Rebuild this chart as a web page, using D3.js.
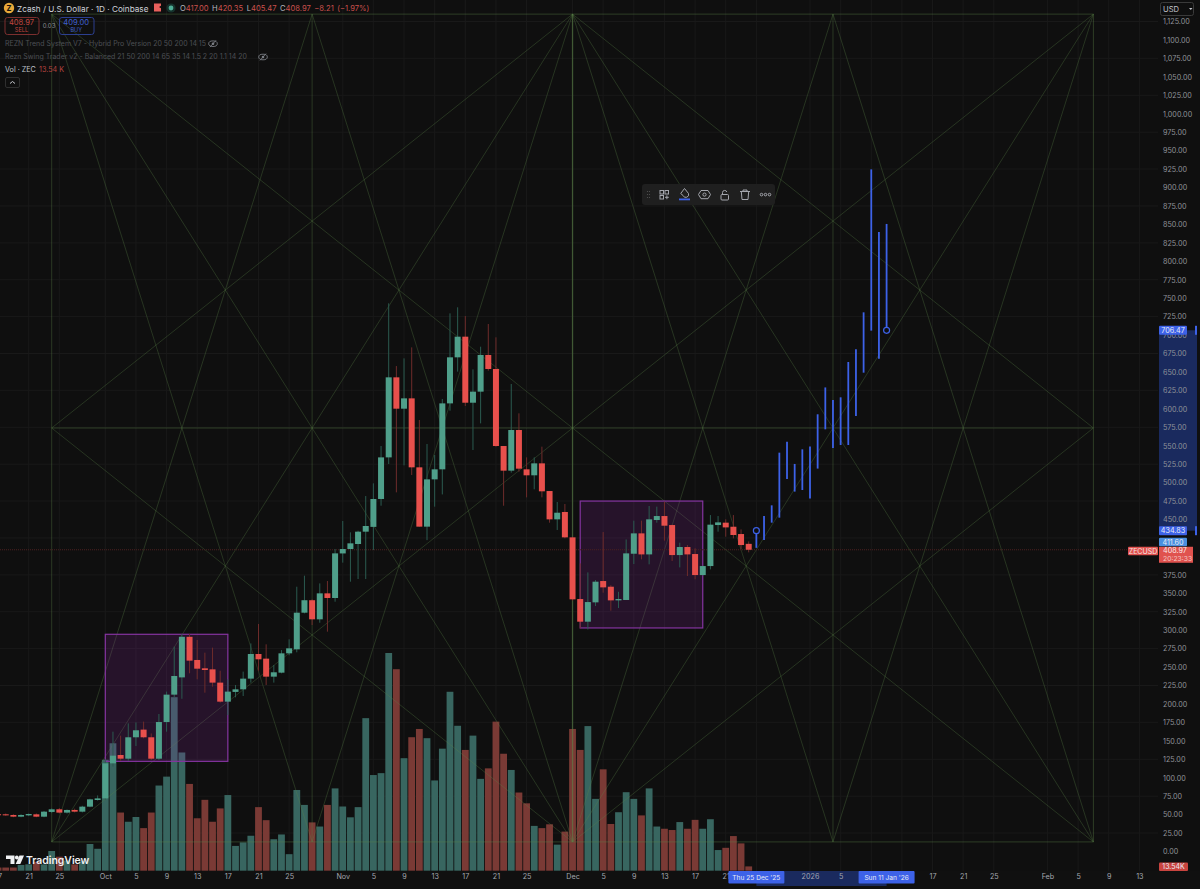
<!DOCTYPE html>
<html>
<head>
<meta charset="utf-8">
<title>ZEC 1D</title>
<script src="https://cdn.jsdelivr.net/npm/d3@7/dist/d3.min.js"></script>
<style>
  html, body { margin: 0; padding: 0; background: #0f0f0f; overflow: hidden; }
  svg { display: block; font-family: Inter, "Noto Sans", sans-serif; }
  .axis text { font-family: Inter, "Noto Sans", sans-serif; }
</style>
</head>
<body>
<svg id="chart" width="1200" height="889"></svg>
<script>
// first candle is 17 Sep, day numbers count from 1 Oct = 0
var firstDay = -14;
var opens = [50.5,50.4,49.5,47.2,49,50.4,47.2,53.6,57.2,52.7,56.3,54,60.8,69.8,
  72,119.5,130.8,125.8,154.8,165.2,154.8,125.8,175.5,212.6,236,291,259.6,248.3,246.9,228.9,
  203.1,216.3,219.8,234.3,267.7,261.4,237,242.4,268.6,274,323.7,340.6,314.7,349.9,343.6,
  404,410,416.8,433.5,440,477.8,534.2,642.7,600.2,614.2,520.7,440.3,504.4,518,607.4,669.8,
  697.8,608.3,623.3,673,654,549.6,516.2,571.3,518,509.9,526.1,488.6,450.2,460.2,425.8,
  342.2,311.5,337.7,366.6,358.9,340.4,340.9,403.6,431.2,402.7,449.3,454.7,442.5,401.8,412.7,
  403.2,374.7,386.9,442.5,445.7,440.2,430.3,417];
var highs = [51.5,51.5,50.5,50.5,51.5,51.5,55,58.5,59,57,58,62,71.5,76,
  125,162.4,157,173.7,175,176,160,186.4,216.7,277.7,294.8,294.8,286.7,269.5,276.3,245,
  233.4,225.7,243.8,282,308.4,280.8,252.8,273,287.6,358.9,373.8,341.8,363.4,366.6,410,
  448,432.6,434.8,481.8,499,549.6,743,658,668.4,683.3,584.9,552.3,537.4,613.3,729.4,737.6,
  725.8,653.5,684.2,715,696.9,549.6,633.6,593.9,534.2,534.2,548.7,488.6,473.7,471,426.5,
  390.5,378.3,368,433,361,352,423,448.4,448.4,468.3,467.4,474.1,443,418.6,415.4,
  410.9,387.5,456,454.7,450.2,456,436.6,420.35];
var lows = [49,48.5,46.5,46.5,48,46.5,46.5,52,51.5,51.5,53,53,60,69,
  70,115,123,123,143,153.4,124,124,162.4,209,207,241.5,233.4,215.3,223.4,201.8,
  185,209,210.8,228.9,245,225.7,228.9,241.5,266,270,322.8,307,310.1,298,338.6,
  391.5,365.7,369.3,369.3,408.6,468.7,525.2,486.8,523.4,510.3,440.3,422,467.4,484,597.5,650.4,
  603.8,544.2,580.3,651.7,548.7,468.7,513.5,514.8,480,490.9,480,445.7,435.8,424.5,340,
  302.4,301,332.7,350.8,326.4,330,340.9,389.6,396,389.2,445.7,421.3,393.7,385.1,373.4,
  368.9,374,382.4,433.5,426.7,424.4,410,405.47];
var closes = [49.5,49,47.2,49.5,50.8,47.2,54,57.2,52.7,56.3,54,60.8,70.7,72,
  119.5,129.9,125.8,154.8,164.3,154.8,125.8,175.5,212.6,237.9,291,258.7,247.8,246,228.9,203.1,
  216.7,219.8,234.3,267.7,260.5,237,242.9,268.6,275.4,323.7,340.6,314.7,349.9,343.6,404.1,
  410,417.7,433.5,441.2,477.8,534.2,642.7,600.2,614.2,520.7,440.3,504.4,518,607.4,669.8,697.8,
  608.3,623.3,673,654,549.6,516.2,571.3,518.9,509.9,526.1,488.2,450.2,459.2,425.8,341.8,
  311.5,338.1,365.7,358,340.4,342.2,404.1,431.2,402.7,450.2,454.7,441.6,401.8,412.7,402.7,
  374.7,386.9,443,446.1,439.3,429,415.4,408.97];
// volume in thousands, same days as the candles
var volumes = [10,10,10,18,20,28,20,62,44,32,20,30,84,69,
  349,401,183,154,169,134,183,268,296,546,372,273,165,223,154,196,
  238,78,89,110,200,159,99,114,52,254,207,152,139,207,259,
  202,168,200,480,301,307,685,634,354,420,446,417,284,384,563,456,
  380,425,289,322,469,368,317,246,212,141,134,146,82,123,446,
  380,455,226,319,147,184,247,226,174,259,139,132,128,153,132,
  160,132,162,65,72,109,86,13.54];

// projection bars after the last candle, 25 Dec to 11 Jan
var projFirstDay = 85;
var projHighs = [434.83,454.8,469.2,540.6,555.5,525.3,545.1,548.8,592.6,629,612,615.6,663.5,680.7,730.8,924.6,839.7,850.6];
var projLows = [411.6,422.2,445.7,452.5,505,487.8,490,478.3,519,572.2,547,551,551,590.3,649,706,668,706.47];

// gann box corners, days and prices
var gannDays = [-7,27,61,95,129];
var gannPrices = [13,574,1135];
// highlighted ranges
var boxDays = [[0,16],[62,78]];
var boxPrices = [[122.2,294.4],[303,475]];

var priceTicks = d3.range(0,1126,25);
var hiddenPrices = [400,425];   // sit under the price tags
var tickDays = [-14,-10,-6,0,4,8,12,16,20,24,31,35,39,43,47,51,55,61,65,69,73,77,81,85,92,96,100,104,108,112,116,123,127,131,135];
// empty ones sit under the date tags
var tickLabels = ["17","21","25","Oct","5","9","13","17","21","25","Nov","5","9","13","17","21","25","Dec","5","9","13","17","21","","2026","5","","","17","21","25","Feb","5","9","13"];

var lastPrice = 408.97, projStart = 434.83, projEnd = 706.47, projMid = 411.60;

var x = d3.scaleLinear().domain([0,129]).range([105.3,1093.4]);
var y = d3.scaleLinear().domain([0,1125]).range([851.5,21.5]);
var yVol = d3.scaleLinear().domain([0,685]).range([870.7,653]);

var paneRight = 1158, paneBottom = 871;
var svg = d3.select("#chart");
svg.append("rect").attr("width",1200).attr("height",889).attr("fill","#0f0f0f");

var green = "#4f9f8a", red = "#e8504c", greenWick = "#2b5b50", redWick = "#6e2c2b";
var blue = "#3d62e8";
var txt = "#a3a6af";

// grid
var grid = svg.append("g");
grid.selectAll("line.v").data(tickDays).enter().append("line")
  .attr("x1",function(d){return x(d);}).attr("x2",function(d){return x(d);})
  .attr("y1",0).attr("y2",paneBottom).attr("stroke","#191919");
grid.selectAll("line.h").data(priceTicks.filter(function(d){return d%50==25;})).enter().append("line")
  .attr("x1",0).attr("x2",paneRight)
  .attr("y1",function(d){return y(d);}).attr("y2",function(d){return y(d);}).attr("stroke","#191919");

// volume
var candles = closes.map(function(c,i){
  return {day:firstDay+i,o:opens[i],h:highs[i],l:lows[i],c:c,v:volumes[i]};
});
svg.append("g").selectAll("rect").data(candles).enter().append("rect")
  .attr("x",function(d){return x(d.day)-3.4;}).attr("width",6.8)
  .attr("y",function(d){return yVol(d.v);})
  .attr("height",function(d){return yVol(0)-yVol(d.v);})
  .attr("fill",function(d){return d.c>=d.o ? "#386660" : "#7a3a35";});

// gann box: frame, then the fans
var gannSegs = [];
function g(a,b,c,e,o,w){ gannSegs.push([gannDays[a],gannPrices[b],gannDays[c],gannPrices[e],o||0.4,w||0.8]); }
// frame and mid lines
g(0,0,4,0,.5); g(0,2,4,2,.5); g(0,1,4,1,.5);
g(0,0,0,2,.45); g(1,0,1,2,.45); g(2,0,2,2,.6,1.3); g(3,0,3,2,.45); g(4,0,4,2,.5);
// diagonals
g(0,0,4,2); g(0,2,4,0);
// corner and middle fans
g(0,0,1,2); g(0,0,2,2); g(4,0,3,2); g(4,0,2,2);
g(0,2,1,0); g(0,2,2,0); g(4,2,3,0); g(4,2,2,0);
g(0,1,2,0); g(0,1,2,2); g(4,1,2,0); g(4,1,2,2);
g(2,2,1,0); g(2,2,3,0); g(2,0,1,2); g(2,0,3,2);
svg.append("g").selectAll("line").data(gannSegs).enter().append("line")
  .attr("x1",function(d){return x(d[0]);}).attr("y1",function(d){return y(d[1]);})
  .attr("x2",function(d){return x(d[2]);}).attr("y2",function(d){return y(d[3]);})
  .attr("stroke",function(d){return "rgba(92,132,72,"+d[4]+")";}).attr("stroke-width",function(d){return d[5];});

// purple ranges
svg.append("g").selectAll("rect").data(boxDays).enter().append("rect")
  .attr("x",function(d){return x(d[0]);})
  .attr("width",function(d){return x(d[1])-x(d[0]);})
  .attr("y",function(d,i){return y(boxPrices[i][1]);})
  .attr("height",function(d,i){return y(boxPrices[i][0])-y(boxPrices[i][1]);})
  .attr("fill","rgba(156,39,176,0.17)").attr("stroke","#8534a0").attr("stroke-width",1.2);

// last price line
svg.append("line").attr("x1",0).attr("x2",paneRight)
  .attr("y1",y(lastPrice)).attr("y2",y(lastPrice))
  .attr("stroke","#4d2020").attr("stroke-dasharray","1 1");

// candles
var cg = svg.append("g").selectAll("g").data(candles).enter().append("g");
cg.append("line")
  .attr("x1",function(d){return x(d.day);}).attr("x2",function(d){return x(d.day);})
  .attr("y1",function(d){return y(d.h);}).attr("y2",function(d){return y(d.l);})
  .attr("stroke",function(d){return d.c>=d.o ? greenWick : redWick;}).attr("stroke-width",1);
cg.append("rect")
  .attr("x",function(d){return x(d.day)-3;}).attr("width",6)
  .attr("y",function(d){return y(Math.max(d.o,d.c));})
  .attr("height",function(d){return Math.max(1,Math.abs(y(d.o)-y(d.c)));})
  .attr("fill",function(d){return d.c>=d.o ? green : red;});

// projection
svg.append("g").selectAll("line").data(projHighs).enter().append("line")
  .attr("x1",function(d,i){return x(projFirstDay+i);}).attr("x2",function(d,i){return x(projFirstDay+i);})
  .attr("y1",function(d){return y(d);}).attr("y2",function(d,i){return y(projLows[i]);})
  .attr("stroke",blue).attr("stroke-width",1.8);
[[projFirstDay,projStart],[projFirstDay+projHighs.length-1,projEnd]].forEach(function(p){
  svg.append("circle").attr("cx",x(p[0])).attr("cy",y(p[1])).attr("r",3)
    .attr("fill","#0f0f0f").attr("stroke",blue).attr("stroke-width",1.2);
});

// axes
var priceFmt = d3.format(",.2f");
var yAxis = d3.axisRight(y).tickValues(priceTicks)
  .tickFormat(function(d){return hiddenPrices.indexOf(d)>=0 ? "" : priceFmt(d);})
  .tickSize(0).tickPadding(0);
var gy = svg.append("g").attr("class","axis").attr("transform","translate(1163,0)").call(yAxis);
var xAxis = d3.axisBottom(x).tickValues(tickDays).tickFormat(function(d,i){return tickLabels[i];}).tickSize(0).tickPadding(0);

svg.append("rect").attr("x",0).attr("y",paneBottom).attr("width",1200).attr("height",18).attr("fill","#101010");
svg.append("rect").attr("x",x(projFirstDay)).attr("y",paneBottom).attr("width",x(projFirstDay+17)-x(projFirstDay)).attr("height",15).attr("fill","#1a2a5e");
var gx = svg.append("g").attr("class","axis").attr("transform","translate(0,874)").call(xAxis);
[gx,gy].forEach(function(a){
  a.select(".domain").remove();
});
gy.selectAll("text").attr("fill","#8f9299").attr("font-size",7.2);
gx.selectAll("text").attr("fill",txt).attr("font-size",7.2);

// axis band + tags
svg.insert("rect","g.axis").attr("x",1159).attr("y",y(projEnd)).attr("width",38).attr("height",y(projStart)-y(projEnd)).attr("fill","#1a2a5e");
function tag(tx,ty,w,h,fill,label,size,color){
  svg.append("rect").attr("x",tx).attr("y",ty).attr("width",w).attr("height",h).attr("rx",1).attr("fill",fill);
  svg.append("text").attr("x",tx+w/2).attr("y",ty+h/2+2.6).attr("text-anchor","middle")
    .attr("font-size",size||7.2).attr("fill",color||"#e8ebf5").text(label);
}
tag(1159,y(projEnd)-4.5,28,9,blue,"706.47");
tag(1159,y(projStart)-4.5,28,9,blue,"434.83");
tag(1159,y(projMid)-10,28,8.5,"#4a8fe0","411.60");
tag(1128,y(lastPrice)-3,30,8.5,"#e0524e","ZECUSD",7,"#f5e6e6");
svg.append("rect").attr("x",1159).attr("y",y(lastPrice)-3).attr("width",34).attr("height",16).attr("fill","#e0524e");
svg.append("text").attr("x",1163).attr("y",y(lastPrice)+3.6).attr("font-size",7.2).attr("fill","#fbeaea").text("408.97");
svg.append("text").attr("x",1163).attr("y",y(lastPrice)+11).attr("font-size",6.8).attr("fill","#f3c4c2").text("20:23:33");
svg.append("rect").attr("x",1195).attr("y",y(projEnd)-4.5).attr("width",2).attr("height",9).attr("fill",blue);
svg.append("rect").attr("x",1195).attr("y",y(projStart)-4.5).attr("width",2).attr("height",9).attr("fill",blue);
tag(1159,862.5,29,8.5,"#c9443f","13.54K",7);
tag(x(projFirstDay)-28,871,56,12.5,blue,"Thu 25 Dec '25",6.6);
tag(x(projFirstDay+17)-28,871,56,12.5,blue,"Sun 11 Jan '26",6.6);

// USD button
svg.append("rect").attr("x",1160.5).attr("y",2.5).attr("width",33).attr("height",13).attr("rx",2).attr("fill","none").attr("stroke","#3a3a3a");
svg.append("text").attr("x",1163).attr("y",11.5).attr("font-size",7.6).attr("fill","#c4c6cc").text("USD");
svg.append("path").attr("d","M1189 8h3.5l-1.75 2z").attr("fill","#c4c6cc");

// header
var head = svg.append("g");
head.append("circle").attr("cx",9).attr("cy",8).attr("r",5.2).attr("fill","#e8a93a");
head.append("text").attr("x",9).attr("y",10.8).attr("text-anchor","middle").attr("font-size",7.5).attr("font-weight",700).attr("fill","#15110a").text("Z");
head.append("text").attr("x",17).attr("y",11.6).attr("font-size",8.2).attr("fill","#cfd2da").text("Zcash / U.S. Dollar · 1D · Coinbase");
head.append("path").attr("d","M154 3.5h7v2.2l-2 1.3 2 1.3v3.2h-7z").attr("fill","#e8605c");
head.append("circle").attr("cx",171).attr("cy",8).attr("r",4.6).attr("fill","#16322c");
head.append("circle").attr("cx",171).attr("cy",8).attr("r",2.4).attr("fill","#4fae96");
var ohlc = [["O","417.00"],["H","420.35"],["L","405.47"],["C","408.97"],["","−8.21"],["","(−1.97%)"]];
var ox = 180;
ohlc.forEach(function(p){
  var t = head.append("text").attr("x",ox).attr("y",11.4).attr("font-size",7.6);
  t.append("tspan").attr("fill","#b4b7bf").text(p[0]);
  t.append("tspan").attr("fill","#c9504c").text(p[1]);
  ox += t.node().getComputedTextLength()+3.5;
});

function pill(bx,w,stroke,color,top,bottom){
  head.append("rect").attr("x",bx+.5).attr("y",17.5).attr("width",w).attr("height",17).attr("rx",2.5).attr("fill","none").attr("stroke",stroke);
  head.append("text").attr("x",bx+w/2).attr("y",25).attr("text-anchor","middle").attr("font-size",7.6).attr("fill",color).text(top);
  head.append("text").attr("x",bx+w/2).attr("y",31.5).attr("text-anchor","middle").attr("font-size",5.6).attr("fill",color).text(bottom);
}
pill(4.5,34,"#7c2f2f","#c0453f","408.97","SELL");
pill(59,34.5,"#2c3f8f","#3f5fd0","409.00","BUY");
head.append("text").attr("x",49).attr("y",28).attr("text-anchor","middle").attr("font-size",6).attr("fill","#8d9096").text("0.03");

function eye(cx,cy){
  head.append("ellipse").attr("cx",cx).attr("cy",cy).attr("rx",4.3).attr("ry",2.8).attr("fill","none").attr("stroke","#7b7e85").attr("stroke-width",.9);
  head.append("circle").attr("cx",cx).attr("cy",cy).attr("r",1.3).attr("fill","#7b7e85");
  head.append("line").attr("x1",cx-3).attr("y1",cy+3.4).attr("x2",cx+3).attr("y2",cy-3.4).attr("stroke","#7b7e85").attr("stroke-width",.9);
}
head.append("text").attr("x",5).attr("y",46.2).attr("font-size",7).attr("fill","#4d4f55").text("REZN Trend System V7 - Hybrid Pro Version 20 50 200 14 15");
eye(213,43.7);
head.append("text").attr("x",5).attr("y",59.2).attr("font-size",7).attr("fill","#4d4f55").text("Rezn Swing Trader v2 - Balanced 21 50 200 14 65 35 14 1.5 2 20 1.1 14 20");
eye(263,57);
head.append("text").attr("x",5).attr("y",71.8).attr("font-size",7.2).attr("fill","#bfc2c9").text("Vol · ZEC");
head.append("text").attr("x",39).attr("y",71.8).attr("font-size",7.2).attr("fill","#b5433f").text("13.54 K");
head.append("rect").attr("x",5.5).attr("y",77.5).attr("width",14).attr("height",10).attr("rx",1.5).attr("fill","none").attr("stroke","#2f2f2f");
head.append("path").attr("d","M10 83.5l2.5-2 2.5 2").attr("fill","none").attr("stroke","#c4c6cc");

// drawing toolbar
var bar = svg.append("g").attr("fill","none").attr("stroke","#a4a6ad").attr("stroke-width",1);
bar.append("rect").attr("x",642).attr("y",184).attr("width",133).attr("height",21).attr("rx",3).attr("fill","#1f1f1f").attr("stroke","none");
[[647.5,191.5],[649.5,191.5],[647.5,194.5],[649.5,194.5],[647.5,197.5],[649.5,197.5]].forEach(function(p){
  bar.append("circle").attr("cx",p[0]).attr("cy",p[1]).attr("r",.6).attr("fill","#555").attr("stroke","none");
});
bar.append("rect").attr("x",660).attr("y",190.5).attr("width",3.5).attr("height",3.5);
bar.append("rect").attr("x",665).attr("y",190.5).attr("width",3.5).attr("height",3.5);
bar.append("rect").attr("x",660).attr("y",195.5).attr("width",3.5).attr("height",3.5);
bar.append("path").attr("d","M665 197.3h3.8M666.9 195.4v3.8");
bar.append("path").attr("d","M684.5 188.5l4 5a2.6 2.6 0 0 1-5.4 2l-2.4-2z");
bar.append("rect").attr("x",679).attr("y",198.5).attr("width",11).attr("height",1.8).attr("fill",blue).attr("stroke","none");
bar.append("path").attr("d","M701 190.5h7l2.5 4-2.5 4.2h-7l-2.5-4.2z");
bar.append("circle").attr("cx",704.5).attr("cy",194.6).attr("r",1.6);
bar.append("rect").attr("x",721).attr("y",194.5).attr("width",7.5).attr("height",5.5).attr("rx",1);
bar.append("path").attr("d","M722.5 194.5v-2a2.2 2.2 0 0 1 4.3-.5");
bar.append("path").attr("d","M740 191.5h10M743 191.5v-1.5h4v1.5M741.3 191.5l.7 8h6l.7-8");
[761.5,765.5,769.5].forEach(function(cx){
  bar.append("circle").attr("cx",cx).attr("cy",194.6).attr("r",1.3);
});

// tradingview mark
var tv = svg.append("g").attr("fill","#f0f1f3");
tv.append("path").attr("d","M6 855.5h8.5v8.5h-4v-5h-4.5z");
tv.append("circle").attr("cx",16.8).attr("cy",857.5).attr("r",1.9);
tv.append("path").attr("d","M19.5 855.5h4.5l-3.7 8.5h-4.6z");
tv.append("text").attr("x",26).attr("y",864.3).attr("font-size",10.4).attr("font-weight",600).text("TradingView");
</script>
</body>
</html>
